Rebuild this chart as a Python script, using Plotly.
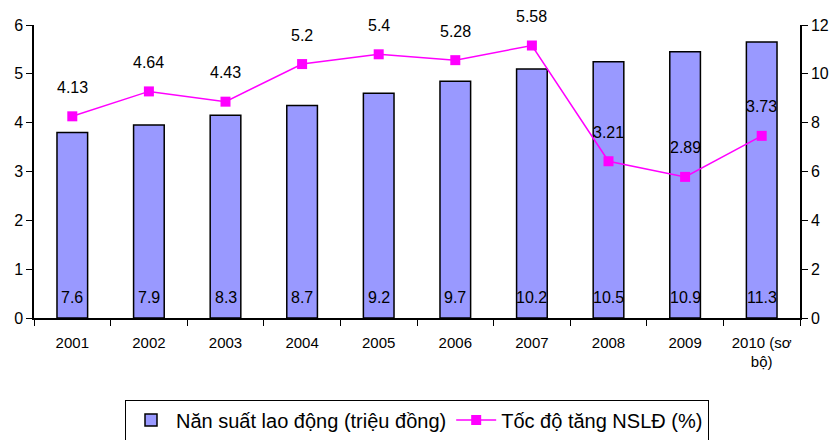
import plotly.graph_objects as go

years = ["2001", "2002", "2003", "2004", "2005", "2006", "2007", "2008", "2009", "2010 (sơ<br>bộ)"]
productivity = [7.6, 7.9, 8.3, 8.7, 9.2, 9.7, 10.2, 10.5, 10.9, 11.3]   # triệu đồng
growth = [4.13, 4.64, 4.43, 5.2, 5.4, 5.28, 5.58, 3.21, 2.89, 3.73]     # %

FONT = "Liberation Sans, Arial, sans-serif"

fig = go.Figure()

# Productivity bars on the right-hand axis (0-12)
fig.add_trace(go.Bar(
    x=years, y=productivity,
    name="Năn suất lao động (triệu đồng)",
    marker=dict(color="#9999FF", line=dict(color="black", width=1.5)),
    width=0.4,
    yaxis="y",
))

# Growth rate line on the left-hand axis (0-6), drawn on top of the bars
fig.add_trace(go.Scatter(
    x=years, y=growth,
    name="Tốc độ tăng NSLĐ (%)",
    mode="lines+markers",
    line=dict(color="#FF00FF", width=1.5),
    marker=dict(symbol="square", size=10, color="#FF00FF"),
    yaxis="y2",
))

# Value labels: category positions are given as indices on the category axis
annotations = []
for i, v in enumerate(productivity):
    annotations.append(dict(x=i, y=0, xref="x", yref="y", text=f"{v}",
                            showarrow=False, yshift=21,
                            font=dict(family=FONT, size=16, color="black")))
for i, v in enumerate(growth):
    annotations.append(dict(x=i, y=v, xref="x", yref="y2", text=f"{v}",
                            showarrow=False, yshift=29,
                            font=dict(family=FONT, size=16, color="black")))

fig.update_layout(
    width=830, height=440,
    margin=dict(l=34, r=30, t=25, b=122, autoexpand=False),
    paper_bgcolor="white", plot_bgcolor="white",
    font=dict(family=FONT, size=15, color="black"),
    xaxis=dict(
        type="category", range=[-0.5, len(years) - 0.5],
        showgrid=False, showline=True, linecolor="black", linewidth=1.5,
        ticks="outside", tickson="boundaries", ticklen=6, tickcolor="black",
        tickfont=dict(size=15), tickangle=0, ticklabelstandoff=10,
    ),
    yaxis=dict(
        side="right", range=[0, 12], dtick=2, showgrid=False, zeroline=False,
        showline=True, linecolor="black", linewidth=1.5,
        ticks="outside", ticklen=6, tickcolor="black", tickfont=dict(size=16),
    ),
    yaxis2=dict(
        side="left", overlaying="y", range=[0, 6], dtick=1, showgrid=False, zeroline=False,
        showline=True, linecolor="black", linewidth=1.5,
        ticks="outside", ticklen=6, tickcolor="black", tickfont=dict(size=16),
    ),
    # inner half of the right-hand tick marks (they cross the axis line)
    yaxis3=dict(
        side="right", overlaying="y", range=[0, 12], dtick=2, showgrid=False, zeroline=False,
        showline=False, showticklabels=False,
        ticks="inside", ticklen=5, tickcolor="black", tickwidth=1.5,
    ),
    legend=dict(
        orientation="h", x=0.5, xanchor="center",
        yref="container", y=0.092, yanchor="top",
        bordercolor="black", borderwidth=1, bgcolor="white",
        font=dict(family=FONT, size=20), itemwidth=40, traceorder="normal",
    ),
    annotations=annotations,
    showlegend=True,
)

fig.write_html("out.html")
